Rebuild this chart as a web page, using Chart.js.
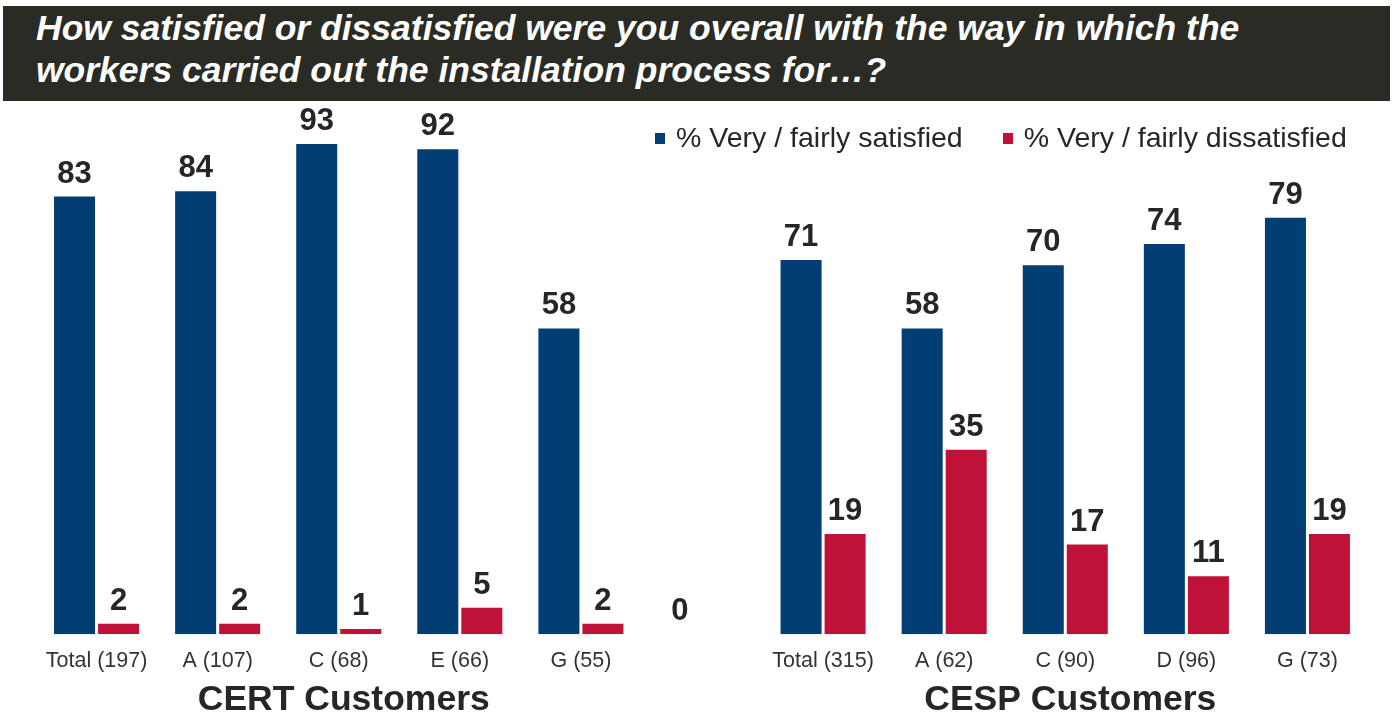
<!DOCTYPE html>
<html>
<head>
<meta charset="utf-8">
<title>Installation satisfaction</title>
<script src="https://cdn.jsdelivr.net/npm/chart.js@4.4.1/dist/chart.umd.min.js"></script>
<style>
  html, body { margin: 0; padding: 0; background: #fff; }
  body { width: 1394px; height: 720px; position: relative; overflow: hidden; font-family: "Liberation Sans", Arial, sans-serif; }
  #banner {
    position: absolute; left: 3px; top: 6px; width: 1387px; height: 95px;
    background: #2b2b26; color: #fff;
    font: italic bold 35.5px "Liberation Sans", Arial, sans-serif;
    line-height: 42px; box-sizing: border-box; padding: 1px 0 0 33px;
    white-space: nowrap;
  }
  #legend { position: absolute; top: 118px; left: 655px; font-size: 28.5px; color: #262626; white-space: nowrap; }
  #legend span.item { display: inline-flex; align-items: center; }
  #legend i { display: inline-block; width: 10px; height: 11px; margin-right: 11px; margin-top: 3px; }
  #chartWrap { position: absolute; left: 0; top: 0; width: 1394px; height: 720px; }
</style>
</head>
<body>
<div id="chartWrap"><canvas id="chart" width="1394" height="720"></canvas></div>
<div id="banner">How satisfied or dissatisfied were you overall with the way in which the<br>workers carried out the installation process for…?</div>
<div id="legend"></div>
<script>
// CERT customers
const certGroups = ["Total (197)", "A (107)", "C (68)", "E (66)", "G (55)"];
const certSatisfied = [83, 84, 93, 92, 58];
const certDissatisfied = [2, 2, 1, 5, 2];

// CESP customers
const cespGroups = ["Total (315)", "A (62)", "C (90)", "D (96)", "G (73)"];
const cespSatisfied = [71, 58, 70, 74, 79];
const cespDissatisfied = [19, 35, 17, 11, 19];

// empty slot between the two groups (left over from the source deck, shows a lone 0)
const gapLabel = "";
const gapSatisfied = 0;
const gapDissatisfied = null;

const seriesNames = ["% Very / fairly satisfied", "% Very / fairly dissatisfied"];
const seriesColors = ["#023d73", "#c01238"];
const groupTitles = ["CERT Customers", "CESP Customers"];

const labels = [...certGroups, gapLabel, ...cespGroups];
const satisfied = [...certSatisfied, gapSatisfied, ...cespSatisfied];
const dissatisfied = [...certDissatisfied, gapDissatisfied, ...cespDissatisfied];

// legend
const legendEl = document.getElementById("legend");
legendEl.innerHTML = seriesNames.map((n, i) =>
  `<span class="item" style="margin-right:${i === 0 ? 40 : 0}px"><i style="background:${seriesColors[i]}"></i>${n}</span>`
).join("");

// value labels above each bar
const valueLabels = {
  id: "valueLabels",
  afterDatasetsDraw(chart) {
    const ctx = chart.ctx;
    ctx.save();
    ctx.font = "bold 31px 'Liberation Sans', Arial, sans-serif";
    ctx.fillStyle = "#262626";
    ctx.textAlign = "center";
    ctx.textBaseline = "alphabetic";
    chart.data.datasets.forEach((ds, di) => {
      chart.getDatasetMeta(di).data.forEach((bar, i) => {
        const v = ds.data[i];
        if (v === null || v === undefined) return;
        ctx.fillText(String(v), bar.x, bar.y - 14);
      });
    });
    ctx.restore();
  }
};

// group captions under each block of categories
const groupCaptions = {
  id: "groupCaptions",
  afterDraw(chart) {
    const x = chart.scales.x;
    const ctx = chart.ctx;
    const spans = [
      [0, certGroups.length - 1],
      [certGroups.length + 1, certGroups.length + cespGroups.length]
    ];
    ctx.save();
    ctx.font = "bold 35.5px 'Liberation Sans', Arial, sans-serif";
    ctx.fillStyle = "#262626";
    ctx.textAlign = "center";
    ctx.textBaseline = "alphabetic";
    spans.forEach((s, k) => {
      const cx = (x.getPixelForValue(s[0]) + x.getPixelForValue(s[1])) / 2;
      ctx.fillText(groupTitles[k], cx + 5, 710);
    });
    ctx.restore();
  }
};

new Chart(document.getElementById("chart"), {
  type: "bar",
  data: {
    labels: labels,
    datasets: [
      { label: seriesNames[0], data: satisfied, backgroundColor: seriesColors[0] },
      { label: seriesNames[1], data: dissatisfied, backgroundColor: seriesColors[1] }
    ]
  },
  options: {
    responsive: false,
    animation: false,
    categoryPercentage: 0.727,
    barPercentage: 0.932,
    layout: { padding: { left: 36, right: 26, top: 107, bottom: 32 } },
    plugins: {
      legend: { display: false },
      tooltip: { enabled: false }
    },
    scales: {
      y: { display: false, min: 0, max: 100 },
      x: {
        grid: { display: false, drawTicks: false },
        border: { display: false },
        ticks: {
          padding: 14,
          color: "#333",
          font: { family: "'Liberation Sans', Arial, sans-serif", size: 21.5 }
        }
      }
    }
  },
  plugins: [valueLabels, groupCaptions]
});
</script>
</body>
</html>
